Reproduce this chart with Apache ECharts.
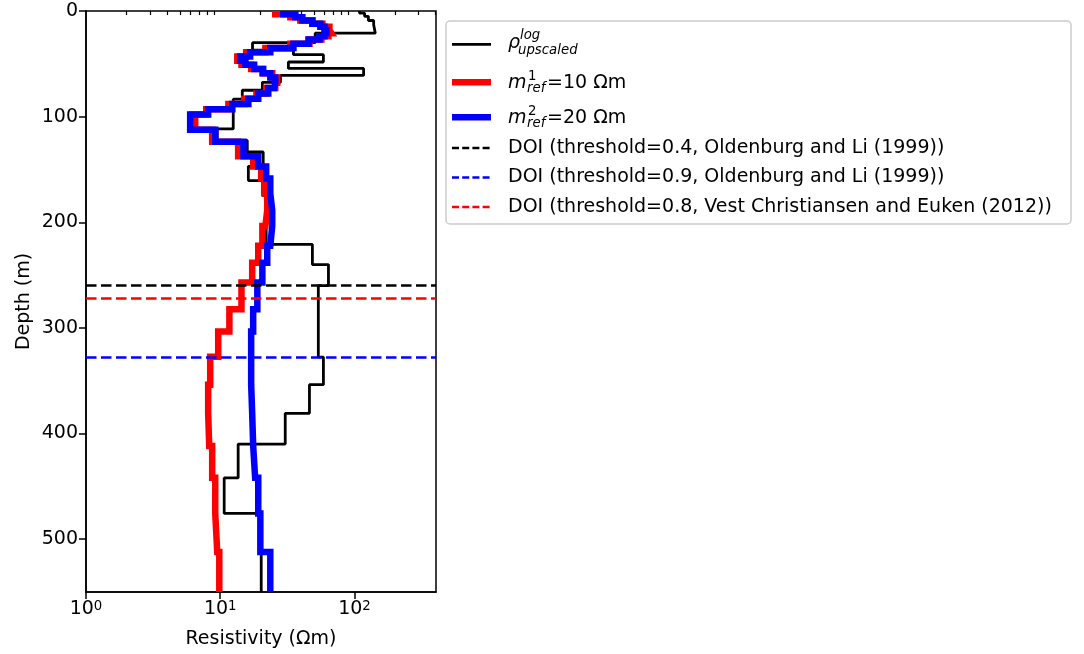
<!DOCTYPE html>
<html><head><meta charset="utf-8">
<script src="https://cdn.jsdelivr.net/npm/echarts@6/dist/echarts.min.js"></script>
<style>html,body{margin:0;padding:0;background:#fff}#c{width:1084px;height:654px}</style>
</head><body><div id="c"></div>
<script>
// ---- data ----
const logDepths = [0,2,5,9,13,21,30,37,41.3,48.3,54.4,61,67.5,75,83.5,111.6,122.5,133.5,147,160.5,174.5,221,240,260,327.6,353.7,380.9,410,442,475.6,550];
const logValues = [109,119,127,139,143,51,17.4,35.1,58.7,32.2,117,28.1,20.6,14.6,12.5,9.5,15.9,20.9,16.2,20.6,22.0,48.6,64.0,53.8,58.7,46.2,30.5,13.6,10.7,20.2];

const modelDepths = [0,3,6,9,12,15,18,21,24,27,31,35,39,43,47,51,55,59,63,68,73,78,83,88,93,98,104,112.5,123.8,137.4,147.3,158.5,172.6,188.6,203.6,222.3,238.3,257,282.4,303.3,327.4,353.7,380.9,411.8,441.8,475.6,512.2,550];
const ref10Values = [25.7,33.3,39.5,48.6,57.7,65.1,67.3,64.0,56.7,46.2,33.3,21.7,15.6,13.4,14.4,17.0,20.6,24.4,26.6,25.7,22.0,18.6,15.1,11.5,7.87,6.18,6.51,8.71,13.6,17.6,20.2,21.3,22.4,21.7,20.6,19.2,17.3,14.4,11.7,9.66,8.42,8.13,8.28,8.71,9.18,9.50,9.84];
const ref20Values = [29.5,36.3,40.9,48.6,55.7,59.7,61.8,59.7,54.8,45.4,35.1,23.6,16.7,14.1,15.4,17.9,20.9,23.6,25.7,25.3,22.8,19.2,16.2,12.3,8.13,5.97,5.97,9.18,14.9,19.2,22.0,23.6,24.4,24.4,23.6,22.4,20.6,18.9,17.6,17.0,17.0,17.3,17.6,18.2,19.2,19.9,23.6];

const doiDepth04 = 260;
const doiDepth09 = 327.4;
const doiDepth08 = 272;

const yTicks = [0,100,200,300,400,500];
const xMajorTicks = [1,10,100];
const xMinorTicks = [2,3,4,5,6,7,8,9,20,30,40,50,60,70,80,90,200,300,400];
const doiLabels = [
  'DOI (threshold=0.4, Oldenburg and Li (1999))',
  'DOI (threshold=0.9, Oldenburg and Li (1999))',
  'DOI (threshold=0.8, Vest Christiansen and Euken (2012))'
];

// ---- helpers ----
function steps(bounds, vals){
  const pts = [];
  for (let i = 0; i < vals.length; i++){
    pts.push([vals[i], bounds[i]]);
    pts.push([vals[i], bounds[i+1]]);
  }
  return pts;
}
const FF = 'DejaVu Sans';
const chart = echarts.init(document.getElementById('c'), null, {renderer:'canvas'});

function doiSeries(depth, color){
  return {
    type:'line', xAxisIndex:0, yAxisIndex:0, data:[], silent:true, z:5,
    markLine:{silent:true, symbol:'none', label:{show:false},
      lineStyle:{color:color, width:2.6, type:[10.5,4.5]},
      data:[{yAxis:depth}]}
  };
}

// legend graphics
const LX = 446, LY = 21;
const g = [];
g.push({type:'rect', shape:{x:LX, y:LY, width:625, height:203, r:4}, style:{fill:'#fff', stroke:'#cccccc', lineWidth:1.5}, z:100});
function hline(y, color, w, dash){
  g.push({type:'line', shape:{x1:452, y1:y, x2:491, y2:y}, style:{stroke:color, lineWidth:w, lineDash:dash||null}, z:101});
}
function txt(x, y, s, size, italic){
  g.push({type:'text', x:x, y:y, style:{text:s, fontSize:size, fontFamily:FF, fontStyle:italic?'italic':'normal', fill:'#000', verticalAlign:'middle', align:'left'}, z:101});
}
hline(44.3, '#000', 2.8);
txt(508, 43.5, 'ρ', 19, true);
txt(520, 35.5, 'log', 13.3, true);
txt(518, 50.5, 'upscaled', 13.3, true);

hline(82.3, '#ff0000', 6.5);
txt(508, 83.3, 'm', 19, true);
txt(528, 76.4, '1', 13.3, false);
txt(527, 88.3, 'ref', 13.3, true);
txt(547, 83.3, '=10 Ωm', 19, false);

hline(117.3, '#0000ff', 6.5);
txt(508, 118.3, 'm', 19, true);
txt(528, 111.4, '2', 13.3, false);
txt(527, 123.3, 'ref', 13.3, true);
txt(547, 118.3, '=20 Ωm', 19, false);

hline(148, '#000', 2.6, [7,3.2]);
txt(508, 148, doiLabels[0], 19, false);
hline(177.5, '#0000ff', 2.6, [7,3.2]);
txt(508, 177.5, doiLabels[1], 19, false);
hline(207, '#ff0000', 2.6, [7,3.2]);
txt(508, 207, doiLabels[2], 19, false);

const option = {
  animation:false,
  backgroundColor:'#fff',
  grid:{left:86, top:11, width:350, height:585, show:true, borderColor:'#000', borderWidth:1.5, backgroundColor:'transparent'},
  xAxis:[{
    type:'log', logBase:10, min:1, max:405, position:'bottom',
    name:'Resistivity (Ωm)', nameLocation:'middle', nameGap:38,
    nameTextStyle:{fontSize:19, fontFamily:FF, color:'#000'},
    axisLine:{show:true, onZero:false, lineStyle:{color:'#000', width:1.5}},
    axisTick:{show:true, length:7, lineStyle:{color:'#000', width:1.5}, customValues:xMajorTicks},
    axisLabel:{show:true, margin:8, customValues:xMajorTicks,
      formatter:function(v){ const e = Math.round(Math.log10(v)); return '{b|10}{s|' + e + '}'; },
      rich:{ b:{fontSize:19, fontFamily:FF, color:'#000'}, s:{fontSize:13.3, fontFamily:FF, color:'#000', verticalAlign:'top'} }},
    splitLine:{show:false}, minorTick:{show:false}
  },{
    type:'log', logBase:10, min:1, max:405, position:'bottom', gridIndex:0,
    axisLine:{show:false}, axisLabel:{show:false}, splitLine:{show:false},
    axisTick:{show:true, length:4, lineStyle:{color:'#000', width:1.2}, customValues:xMinorTicks}
  }],
  yAxis:{
    type:'value', inverse:true, min:0, max:550, interval:100,
    name:'Depth (m)', nameLocation:'middle', nameGap:52, nameRotate:90,
    nameTextStyle:{fontSize:19, fontFamily:FF, color:'#000'},
    axisLine:{show:true, onZero:false, lineStyle:{color:'#000', width:1.5}},
    axisTick:{show:true, length:7, lineStyle:{color:'#000', width:1.5}, customValues:yTicks},
    axisLabel:{fontSize:19, fontFamily:FF, color:'#000', margin:8, customValues:yTicks},
    splitLine:{show:false}
  },
  series:[
    {type:'line', name:'log', data:steps(logDepths, logValues), showSymbol:false, symbol:'none', z:2,
      lineStyle:{color:'#000', width:2.8}},
    {type:'line', name:'ref10', data:steps(modelDepths, ref10Values), showSymbol:false, symbol:'none', z:3,
      lineStyle:{color:'#ff0000', width:6.5, join:'miter'}},
    {type:'line', name:'ref20', data:steps(modelDepths, ref20Values), showSymbol:false, symbol:'none', z:4,
      lineStyle:{color:'#0000ff', width:6.5, join:'miter'}},
    doiSeries(doiDepth04, '#000'),
    doiSeries(doiDepth09, '#0000ff'),
    doiSeries(doiDepth08, '#ff0000')
  ],
  graphic:g
};
chart.setOption(option);
</script></body></html>
